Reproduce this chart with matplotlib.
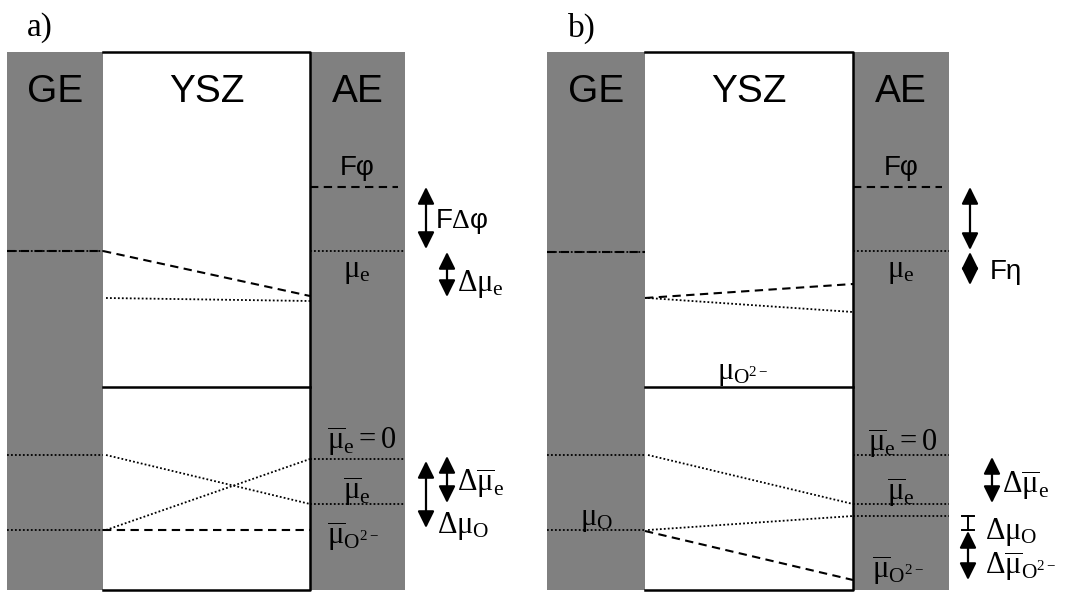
import matplotlib.pyplot as plt
from matplotlib.patches import Rectangle

plt.rcParams['mathtext.fontset'] = 'custom'
plt.rcParams['mathtext.rm'] = 'Liberation Serif'
plt.rcParams['mathtext.it'] = 'Liberation Serif'
plt.rcParams['mathtext.bf'] = 'Liberation Serif:bold'

# layer edges: GE | YSZ | AE, for panels a) and b)
ge_left = [7, 547]
ysz_left = [103, 645]
ae_left = [310, 853]
ae_right = [405, 949]
top, bottom = 52, 590
ysz_split = 387

# energy levels (drawn downward)
phi_level = [187, 187]
ge_mix = [251, 252]                 # dashed + dotted in GE
ge_dotted = [[455, 530], [455, 530]]
ae_dotted = [[251, 459, 504], [251, 455, 504, 516]]
ysz_dotted = [[(298, 301), (455, 504), (530, 459)],
              [(298, 312), (455, 504), (530, 516)]]
ysz_dashed = [[(251, 296), (530, 530)],
              [(298, 284), (531, 580)]]

# double arrows (x, y_from, y_to)
arrows = [[(426, 187, 249), (447, 252, 297), (426, 461, 528), (447, 456, 503)],
          [(970, 187, 250), (970, 252, 285), (992, 457, 503), (968, 531, 580)]]
ibar = (968, 516, 530)

labels_a = [
    (435, 221, r'F$\Delta$φ', 'sans'),
    (457, 284, r'$\Delta\mu_\mathrm{e}$', 'serif'),
    (457, 484, r'$\Delta\overline{\mu}_\mathrm{e}$', 'serif'),
    (437, 526, r'$\Delta\mu_\mathrm{O}$', 'serif'),
    (327, 442, r'$\overline{\mu}_\mathrm{e} = 0$', 'serif'),
    (343, 492, r'$\overline{\mu}_\mathrm{e}$', 'serif'),
    (327, 537, r'$\overline{\mu}_{\mathrm{O}^{2-}}$', 'serif'),
    (343, 272, r'$\mu_\mathrm{e}$', 'serif'),
]
labels_b = [
    (990, 272, 'Fη', 'sans'),
    (1002, 486, r'$\Delta\overline{\mu}_\mathrm{e}$', 'serif'),
    (985, 532, r'$\Delta\mu_\mathrm{O}$', 'serif'),
    (985, 567, r'$\Delta\overline{\mu}_{\mathrm{O}^{2-}}$', 'serif'),
    (868, 444, r'$\overline{\mu}_\mathrm{e} = 0$', 'serif'),
    (887, 493, r'$\overline{\mu}_\mathrm{e}$', 'serif'),
    (872, 571, r'$\overline{\mu}_{\mathrm{O}^{2-}}$', 'serif'),
    (887, 272, r'$\mu_\mathrm{e}$', 'serif'),
    (580, 519, r'$\mu_\mathrm{O}$', 'serif'),
    (717, 374, r'$\mu_{\mathrm{O}^{2-}}$', 'serif'),
]
panel_tags = ['a)', 'b)']
tag_x = [40, 582]

GRAY = '#808080'
DOT = dict(color='k', lw=1.3, dashes=(1, 1.2))
DASH = dict(color='k', lw=1.5, dashes=(4, 2.6))

fig = plt.figure(figsize=(10.7, 5.92), dpi=100)
ax = fig.add_axes([0, 0, 1, 1])
ax.set_xlim(0, 1070)
ax.set_ylim(592, 0)
ax.axis('off')

for p in range(2):
    g0, y0, a0, a1 = ge_left[p], ysz_left[p], ae_left[p], ae_right[p]
    h = bottom - top
    ax.add_patch(Rectangle((g0, top), y0 - g0, h, color=GRAY, lw=0))
    ax.add_patch(Rectangle((a0, top), a1 - a0, h, color=GRAY, lw=0))
    ax.add_patch(Rectangle((y0, top), a0 - y0, h, color='white', lw=0))
    ax.plot([y0, a0, a0, y0], [top, top, bottom, bottom], color='k', lw=1.8)
    ax.plot([y0, a0], [ysz_split, ysz_split], color='k', lw=1.8)

    for xc, name in [((g0 + y0) / 2, 'GE'), ((y0 + a0) / 2, 'YSZ'),
                     ((a0 + a1) / 2, 'AE')]:
        ax.text(xc, 102, name, fontsize=28, family='Liberation Sans',
                ha='center', va='baseline')
    ax.text((a0 + a1) / 2, 175, 'Fφ', fontsize=20, family='Liberation Sans',
            ha='center', va='baseline')
    ax.text(tag_x[p], 28, panel_tags[p], fontsize=24, family='Liberation Serif',
            ha='center', va='center')

    # levels
    ax.plot([a0, a1 - 7], [phi_level[p]] * 2, **DASH)
    ax.plot([g0, y0], [ge_mix[p]] * 2, **DOT)
    ax.plot([g0, y0], [ge_mix[p]] * 2, **DASH)
    for yv in ge_dotted[p]:
        ax.plot([g0, y0], [yv, yv], **DOT)
    for yv in ae_dotted[p]:
        ax.plot([a0, a1], [yv, yv], **DOT)
    for ya, yb in ysz_dotted[p]:
        ax.plot([y0 + 3, a0], [ya, yb], **DOT)
    for ya, yb in ysz_dashed[p]:
        ax.plot([y0, a0], [ya, yb], **DASH)

    for x, ya, yb in arrows[p]:
        ax.annotate('', xy=(x, yb), xytext=(x, ya),
                    arrowprops=dict(arrowstyle='<|-|>,head_length=0.85,head_width=0.42',
                                    color='k', lw=1.6, mutation_scale=12,
                                    shrinkA=0, shrinkB=0))

# small bracket for the oxygen chemical potential step
x, ya, yb = ibar
ax.plot([x, x], [ya, yb], color='k', lw=1.4)
ax.plot([x - 6, x + 6], [ya, ya], color='k', lw=1.4)
ax.plot([x - 6, x + 6], [yb, yb], color='k', lw=1.4)

for x, y, s, kind in labels_a + labels_b:
    if kind == 'sans':
        ax.text(x, y, s, fontsize=20, family='Liberation Sans', va='center')
    else:
        ax.text(x, y, s, fontsize=22, va='center')

fig.savefig('out.png', dpi=100)
